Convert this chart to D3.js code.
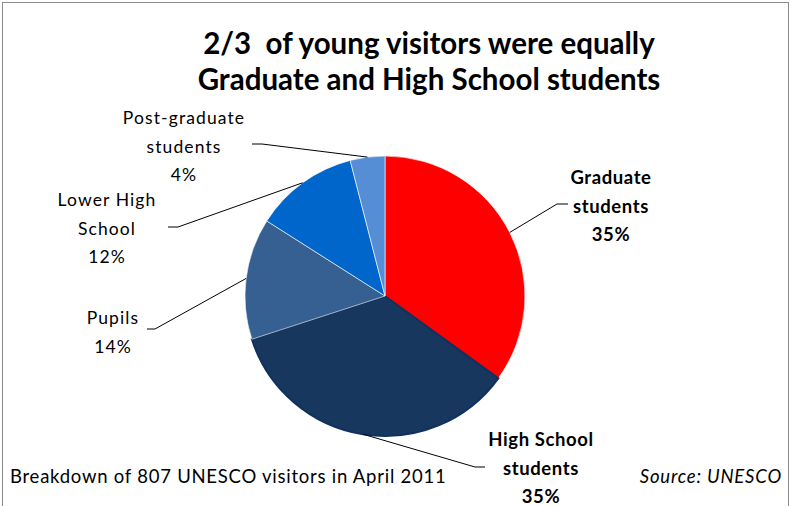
<!DOCTYPE html>
<html><head><meta charset="utf-8">
<script src="https://cdn.jsdelivr.net/npm/d3@7"></script>
<style>body{margin:0;background:#fff}svg{display:block}text{font-family:Lato,"Open Sans",sans-serif;white-space:pre}</style>
</head><body>
<svg id="c" width="791" height="506"></svg>
<script>
const categories = ["Graduate students","High School students","Pupils","Lower High School","Post-graduate students"];
const values = [35, 35, 14, 12, 4];
const labelLines = [["Graduate","students","35%"],["High School","students","35%"],["Pupils","14%"],["Lower High","School","12%"],["Post-graduate","students","4%"]];
const colors = ["#FF0000","#17375E","#366092","#0066CC","#558ED5"];
const titleLines = ["2/3  of young visitors were equally","Graduate and High School students"];
const footnote = "Breakdown of 807 UNESCO visitors in April 2011";
const source = "Source: UNESCO";

const svg = d3.select("#c");
svg.append("rect").attr("x",2.5).attr("y",2.5).attr("width",786).attr("height",520)
  .attr("fill","none").attr("stroke","#8c8c8c").attr("stroke-width",1);

svg.selectAll("text.title").data(titleLines).join("text").attr("class","title")
  .attr("x",429).attr("y",(d,i)=>54+i*36).attr("text-anchor","middle")
  .attr("font-size",29.5).attr("font-weight","bold").attr("fill","#000").text(d=>d);

const cx=385, cy=296, R=140;
const pie = d3.pie().sort(null).value(d=>d)(values);
const arc = d3.arc().innerRadius(0).outerRadius(R);
const g = svg.append("g").attr("transform",`translate(${cx},${cy})`);
g.selectAll("path").data(pie).join("path").attr("d",arc)
  .attr("fill",(d,i)=>colors[i])
  .attr("stroke",(d,i)=>i===1?"#0F3060":"#fff")
  .attr("stroke-width",(d,i)=>i===1?2:0.6);

// label layout
const labelPos = [
  {x:611,y:178,bold:true,line:[[568,204],[557,204]]},
  {x:541,y:440,bold:true,line:[[485,467],[475,467]]},
  {x:113,y:318,bold:false,line:[[147,329],[155,329]]},
  {x:107,y:200,bold:false,line:[[168,227],[178,227]]},
  {x:184,y:118,bold:false,line:[[252,144],[262,144]]}
];
pie.forEach((d,i)=>{
  const p = labelPos[i];
  const a = (d.startAngle + d.endAngle)/2;
  const ex = cx + R*Math.sin(a), ey = cy - R*Math.cos(a);
  svg.append("path").attr("d",d3.line()([p.line[0],p.line[1],[ex,ey]]))
    .attr("fill","none").attr("stroke","#000").attr("stroke-width",1);
  svg.append("g").selectAll("text").data(labelLines[i]).join("text")
    .attr("x",p.x).attr("y",(t,j)=>p.y+j*28.5).attr("dy","0.35em").attr("text-anchor","middle")
    .attr("font-size",p.bold?18.5:17.5).attr("font-weight",p.bold?"bold":"normal")
    .attr("letter-spacing",p.bold?0.6:1.1).attr("fill","#000").text(t=>t);
});

svg.append("text").attr("x",10).attr("y",477).attr("dy","0.35em").attr("font-size",18.5)
  .attr("letter-spacing",0.75).text(footnote);
svg.append("text").attr("x",782).attr("y",477).attr("dy","0.35em").attr("text-anchor","end")
  .attr("font-size",18.5).attr("font-style","italic").attr("letter-spacing",0.8).text(source);
</script>
</body></html>
